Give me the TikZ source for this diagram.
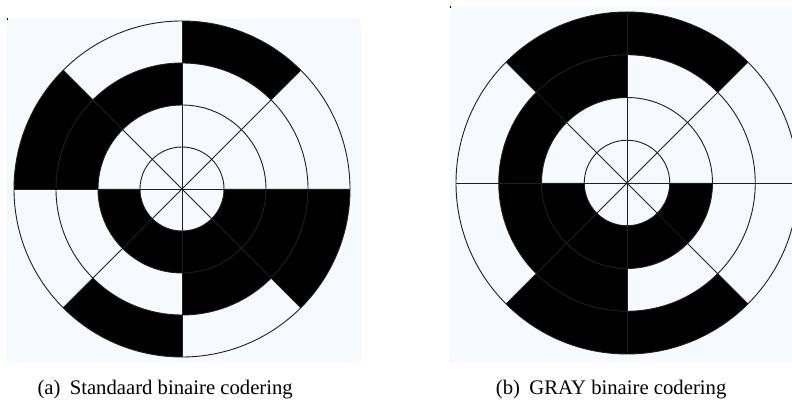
\documentclass[tikz,border=0pt]{standalone}
\usepackage{fontspec}
\setmainfont{Liberation Serif}
\definecolor{bgpanel}{RGB}{246,250,254}
\newcommand\annsec[4]{%
  \fill[black] ([shift={(#4:#2)}]#1) arc[start angle=#4,end angle=#4+45,radius=#2]
    -- ([shift={(#4+45:#3)}]#1) arc[start angle=#4+45,end angle=#4,radius=#3] -- cycle;}
\newcommand\wheelgrid[2]{% center, ring step
  \foreach \k in {1,2,3,4}{\draw[gridline] (#1) circle[radius=\k*#2];}
  \foreach \a in {0,45,90,135}{\draw[gridline] ([shift={(\a:4*#2)}]#1) -- ([shift={(\a+180:4*#2)}]#1);}}
\tikzset{
  gridline/.style={draw=black!88, line width=0.9pt},
  captiontext/.style={anchor=base west, inner sep=0pt, font=\fontsize{20.7}{24}\selectfont},
}
\begin{document}
\begin{tikzpicture}[x=1pt,y=1pt]
\useasboundingbox (0,0) rectangle (792,403);
% panels
\fill[bgpanel] (7,40) rectangle (361,384);
\fill[bgpanel] (450,40) rectangle (792,396);
\fill[black] (6.5,383.3) rectangle (8,384.8);
\fill[black] (449.5,395.3) rectangle (451,396.8);
% centres
\coordinate (L) at (182,214);
\coordinate (R) at (627,220);
% standard binary
\foreach \a in {180,225,270,315}{\annsec{L}{42}{84}{\a}}
\foreach \a in {90,135,270,315}{\annsec{L}{84}{126}{\a}}
\foreach \a in {45,135,225,315}{\annsec{L}{126}{168}{\a}}
\wheelgrid{L}{42}
% gray code
\foreach \a in {180,225,270,315}{\annsec{R}{42.75}{85.5}{\a}}
\foreach \a in {90,135,180,225}{\annsec{R}{85.5}{128.25}{\a}}
\foreach \a in {45,90,225,270}{\annsec{R}{128.25}{171}{\a}}
\wheelgrid{R}{42.75}
% captions
\node[captiontext] (capa) at (37.3,8) {(a)\hspace{0.45em}Standaard binaire codering};
\node[captiontext] (capb) at (495.7,8) {(b)\hspace{0.45em}GRAY binaire codering};
\end{tikzpicture}
\end{document}
